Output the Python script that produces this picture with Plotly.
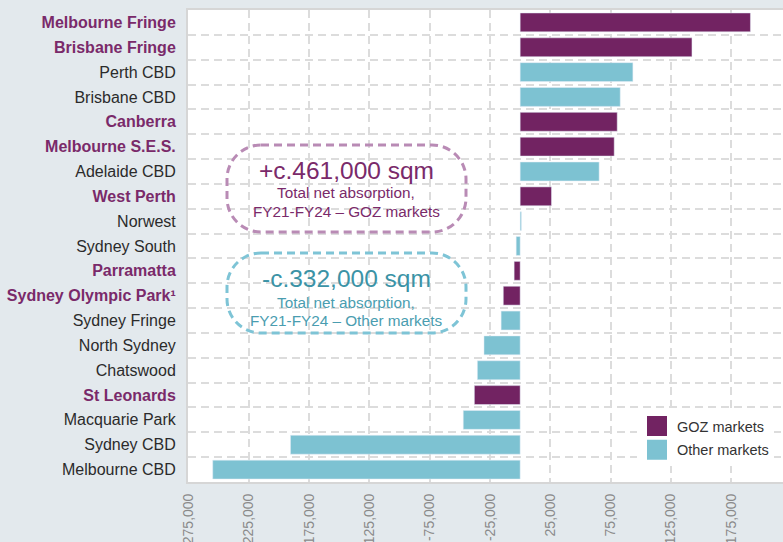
import plotly.graph_objects as go

# data, top to bottom as shown
markets = ['Melbourne Fringe', 'Brisbane Fringe', 'Perth CBD', 'Brisbane CBD', 'Canberra',
           'Melbourne S.E.S.', 'Adelaide CBD', 'West Perth', 'Norwest', 'Sydney South',
           'Parramatta', 'Sydney Olympic Park¹', 'Sydney Fringe', 'North Sydney', 'Chatswood',
           'St Leonards', 'Macquarie Park', 'Sydney CBD', 'Melbourne CBD']
absorption = [191000, 142500, 93500, 83000, 80500, 78000, 65500, 26000, 1000, -3300,
              -5000, -14000, -15800, -30000, -35500, -38000, -47200, -190500, -255000]
is_goz = [True, True, False, False, True, True, False, True, False, False,
          True, True, False, False, False, True, False, False, False]
x_ticks = [-275000, -225000, -175000, -125000, -75000, -25000, 25000, 75000, 125000, 175000]

PURPLE = '#722362'
TEAL = '#7DC2D2'
LABEL_PURPLE = '#7A2A6A'
FONT = 'Liberation Sans, Arial, sans-serif'

goz_vals = [v if g else None for v, g in zip(absorption, is_goz)]
oth_vals = [None if g else v for v, g in zip(absorption, is_goz)]

fig = go.Figure()
fig.add_trace(go.Bar(y=markets, x=goz_vals, orientation='h', marker_color=PURPLE,
                     showlegend=False, name='GOZ markets'))
fig.add_trace(go.Bar(y=markets, x=oth_vals, orientation='h', marker_color=TEAL,
                     showlegend=False, name='Other markets'))
# legend entries (bigger squares than the bar legend gives)
for nm, col, grp in [('GOZ markets', PURPLE, 'a'), ('Other markets', TEAL, 'b')]:
    fig.add_trace(go.Scatter(x=[None], y=[None], mode='markers', name=nm, legendgroup=grp,
                             marker=dict(symbol='square', size=16, color=col,
                                         line=dict(color=col, width=4))))

ticktext_y = ["<b><span style='color:%s'>%s</span></b>" % (LABEL_PURPLE, m) if g else m
              for m, g in zip(markets, is_goz)]

# plot area in pixels, used for the callout boxes
PL, PR, PT, PB = 188, 783, 10, 482
def px(x): return (x - PL) / (PR - PL)
def py(y): return (PB - y) / (PB - PT)

def stadium(x0, y0, x1, y1, r):
    k = 0.5523 * r
    pts = [('M', [(x0 + r, y0)]), ('L', [(x1 - r, y0)]),
           ('C', [(x1 - r + k, y0), (x1, y0 + r - k), (x1, y0 + r)]),
           ('L', [(x1, y1 - r)]),
           ('C', [(x1, y1 - r + k), (x1 - r + k, y1), (x1 - r, y1)]),
           ('L', [(x0 + r, y1)]),
           ('C', [(x0 + r - k, y1), (x0, y1 - r + k), (x0, y1 - r)]),
           ('L', [(x0, y0 + r)]),
           ('C', [(x0, y0 + r - k), (x0 + r - k, y0), (x0 + r, y0)])]
    s = ''
    for cmd, cs in pts:
        s += cmd + ' '.join('%.5f,%.5f' % (px(a), py(b)) for a, b in cs) + ' '
    return s + 'Z'

shapes = [
    dict(type='path', xref='paper', yref='paper', path=stadium(227, 145, 466, 232, 34),
         line=dict(color='#B98BB5', width=3, dash='8px,5px'), fillcolor='rgba(255,255,255,0)'),
    dict(type='path', xref='paper', yref='paper', path=stadium(227, 253, 466, 333, 34),
         line=dict(color='#7EC4D6', width=3, dash='8px,5px'), fillcolor='rgba(255,255,255,0)'),
]

def ann(text, x, y, size, color):
    return dict(text=text, x=px(x), y=py(y), xref='paper', yref='paper', showarrow=False,
                xanchor='center', yanchor='middle', font=dict(family=FONT, size=size, color=color))

annotations = [
    ann('+c.461,000 sqm', 346, 170, 24.5, '#7A2A6A'),
    ann('Total net absorption,', 346, 193, 15.3, '#7A2A6A'),
    ann('FY21-FY24 – GOZ markets', 346, 211, 15.3, '#7A2A6A'),
    ann('-c.332,000 sqm', 346, 278, 24.5, '#3B93A6'),
    ann('Total net absorption,', 346, 302, 15.3, '#4A9DB0'),
    ann('FY21-FY24 – Other markets', 346, 320, 15.3, '#4A9DB0'),
]

fig.update_layout(
    width=783, height=542,
    margin=dict(l=PL, r=0, t=PT, b=542 - PB, pad=0),
    paper_bgcolor='#E3E9ED', plot_bgcolor='white',
    barmode='relative', bargap=0.24,
    font=dict(family=FONT, size=16, color='#333333'),
    shapes=shapes, annotations=annotations,
    legend=dict(x=px(637), y=py(410), xanchor='left', yanchor='top',
                bgcolor='white', font=dict(size=14.5, color='#333333'),
                traceorder='grouped', tracegroupgap=2, itemwidth=30),
)
fig.update_xaxes(range=[-275500, 218000], tickvals=x_ticks,
                 ticktext=['{:,}'.format(v) for v in x_ticks],
                 tickangle=-90, tickfont=dict(size=14, color='#8A8A8A'),
                 showgrid=True, gridcolor='#DCDCDC', gridwidth=2, griddash='8px,5px',
                 zeroline=False, showline=True, linecolor='#D6D6D6', linewidth=2, mirror=True,
                 ticks='', ticklabelstandoff=4, automargin=False, fixedrange=True)
fig.update_yaxes(categoryorder='array', categoryarray=markets, autorange='reversed',
                 tickvals=markets, ticktext=ticktext_y, tickson='boundaries',
                 tickfont=dict(size=16, color='#2B2B2B'),
                 showgrid=True, gridcolor='#DCDCDC', gridwidth=2, griddash='8px,5px',
                 zeroline=False, showline=True, linecolor='#D6D6D6', linewidth=2,
                 ticks='', ticklabelstandoff=7, automargin=False)

fig.write_html('out.html', config={'displayModeBar': False},
               post_script="document.body.style.margin='0';document.body.style.overflow='hidden';")
